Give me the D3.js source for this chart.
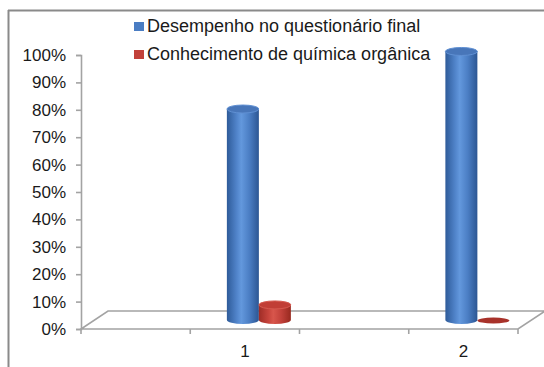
<!DOCTYPE html>
<html>
<head>
<meta charset="utf-8">
<script src="https://cdn.jsdelivr.net/npm/d3@7/dist/d3.min.js"></script>
<style>
  html, body { margin: 0; padding: 0; background: #fff; }
  svg { display: block; font-family: "Liberation Sans", Arial, sans-serif; }
</style>
</head>
<body>
<svg id="chart" width="544" height="367"></svg>
<script>
// Chart data
const categories = ["1", "2"];
const seriesNames = ["Desempenho no questionário final", "Conhecimento de química orgânica"];
const desempenho = [0.77, 0.98];
const conhecimento = [0.055, 0.0];
const yTicks = [0, 0.1, 0.2, 0.3, 0.4, 0.5, 0.6, 0.7, 0.8, 0.9, 1.0];

const series = [
  { name: seriesNames[0], values: desempenho, key: "blue" },
  { name: seriesNames[1], values: conhecimento, key: "red" }
];

const svg = d3.select("#chart");
const W = 544, H = 367;

// Palette for the cylinders
const colors = {
  blue: { stops: ["#2e5b99", "#5083c9", "#6398dd", "#4b7ec4", "#2c5693"], top: "#4876b9", topEdge: "#6090d3", legend: "#4a7dc3" },
  red:  { stops: ["#9e2c26", "#c7443c", "#d8564c", "#c2413a", "#98291f"], top: "#c13e36", topEdge: "#d65a50", legend: "#c2413a" }
};

const defs = svg.append("defs");
Object.entries(colors).forEach(([k, c]) => {
  const g = defs.append("linearGradient").attr("id", "grad-" + k)
    .attr("x1", "0%").attr("x2", "100%").attr("y1", "0%").attr("y2", "0%");
  const offs = [0, 0.3, 0.45, 0.7, 1];
  c.stops.forEach((s, i) => g.append("stop").attr("offset", offs[i]).attr("stop-color", s));
});

// Outer frame (only top and left edges fall inside the view)
svg.append("line").attr("x1", 8).attr("x2", W).attr("y1", 10.5).attr("y2", 10.5)
  .attr("stroke", "#8a8a8a").attr("stroke-width", 2);
svg.append("line").attr("x1", 8.5).attr("x2", 8.5).attr("y1", 10).attr("y2", H)
  .attr("stroke", "#8a8a8a").attr("stroke-width", 2);

// Scales
const plotLeft = 81, plotRight = 518, floorY = 329, topY = 55;
const depthX = 27, depthY = -18;
const y = d3.scaleLinear().domain([0, 1]).range([floorY, topY]);
const xSlots = d3.scaleLinear().domain([0, categories.length * 2]).range([plotLeft, plotRight]);
const catX = (i) => xSlots(1.5 + 2 * i);
const sub = d3.scaleBand().domain(series.map(s => s.key)).range([-18, 46]).padding(0);

const axisColor = "#a3a3a3";

// Floor parallelogram
const floor = d3.path();
floor.moveTo(plotLeft, floorY);
floor.lineTo(plotRight, floorY);
floor.lineTo(plotRight + depthX, floorY + depthY);
floor.lineTo(plotLeft + depthX, floorY + depthY);
floor.closePath();
svg.append("path").attr("d", floor.toString()).attr("fill", "none")
  .attr("stroke", axisColor).attr("stroke-width", 1.6);

// Value axis
const yAxis = d3.axisLeft(y).tickValues(yTicks).tickFormat(d3.format(".0%"))
  .tickSize(5).tickPadding(10);
const gy = svg.append("g").attr("transform", `translate(${plotLeft},0)`).call(yAxis);
gy.select(".domain").attr("stroke", axisColor).attr("stroke-width", 1.6);
gy.selectAll(".tick line").attr("stroke", axisColor).attr("stroke-width", 1.6);
gy.selectAll(".tick text").attr("fill", "#1a1a1a").attr("font-size", 17)
  .attr("font-family", "Liberation Sans, Arial, sans-serif");

// Category axis ticks on the front floor edge
const xTickVals = d3.range(0, categories.length * 2 + 1);
const gx = svg.append("g");
gx.selectAll("line").data(xTickVals).join("line")
  .attr("x1", d => xSlots(d)).attr("x2", d => xSlots(d))
  .attr("y1", floorY).attr("y2", floorY + 5)
  .attr("stroke", axisColor).attr("stroke-width", 1.6);
gx.selectAll("text").data(categories).join("text")
  .attr("x", (d, i) => catX(i)).attr("y", 357)
  .attr("text-anchor", "middle").attr("font-size", 17).attr("fill", "#1a1a1a")
  .text(d => d);

// Cylinders, standing mid-depth on the floor
const baseY = floorY + depthY / 2;
const rx = 16, ry = 4;
const yBar = (v) => baseY - (y(0) - y(v));

const bars = [];
categories.forEach((c, i) => {
  series.forEach(s => bars.push({ cat: i, key: s.key, value: s.values[i] }));
});

const gb = svg.append("g");
bars.forEach(b => {
  const cx = catX(b.cat) + sub(b.key) + sub.bandwidth() / 2;
  const yt = yBar(b.value);
  const col = colors[b.key];
  if (b.value > 0.002) {
    // side of the cylinder with an elliptical bottom edge
    gb.append("path")
      .attr("d", `M${cx - rx},${yt} L${cx - rx},${baseY} A${rx},${ry} 0 0 0 ${cx + rx},${baseY} L${cx + rx},${yt} Z`)
      .attr("fill", `url(#grad-${b.key})`);
    gb.append("ellipse").attr("cx", cx).attr("cy", yt).attr("rx", rx).attr("ry", ry)
      .attr("fill", col.top).attr("stroke", col.topEdge).attr("stroke-width", 1);
  } else {
    // a zero value leaves only a flat disc on the floor
    gb.append("ellipse").attr("cx", cx).attr("cy", baseY + 0.5).attr("rx", rx).attr("ry", 3)
      .attr("fill", "#a8322a");
  }
});

// Legend
const legend = svg.append("g");
series.forEach((s, i) => {
  const ly = 32 + i * 28;
  legend.append("rect").attr("x", 134).attr("y", ly - 10).attr("width", 10).attr("height", 9)
    .attr("fill", colors[s.key].legend);
  legend.append("text").attr("x", 147).attr("y", ly).attr("font-size", 18)
    .attr("fill", "#1a1a1a").text(s.name);
});
</script>
</body>
</html>
